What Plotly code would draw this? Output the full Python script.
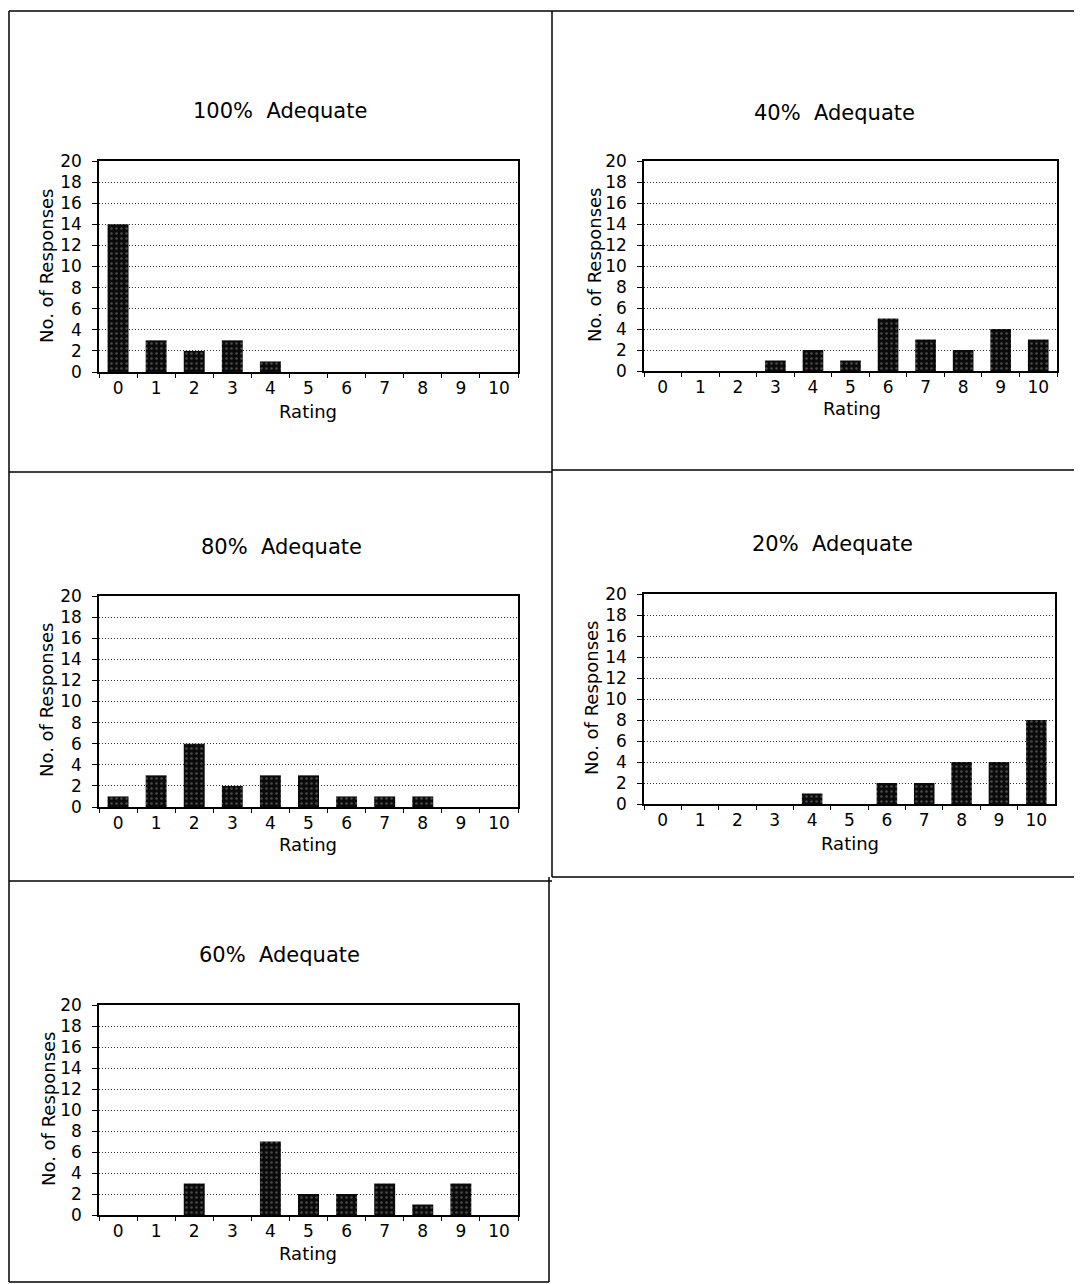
import plotly.graph_objects as go

# ---- data ----
ratings = ["0", "1", "2", "3", "4", "5", "6", "7", "8", "9", "10"]
titles = ["100%  Adequate", "40%  Adequate", "80%  Adequate", "20%  Adequate", "60%  Adequate"]
resp_100 = [14, 3, 2, 3, 1, 0, 0, 0, 0, 0, 0]
resp_40 = [0, 0, 0, 1, 2, 1, 5, 3, 2, 4, 3]
resp_80 = [1, 3, 6, 2, 3, 3, 1, 1, 1, 0, 0]
resp_20 = [0, 0, 0, 0, 1, 0, 2, 2, 4, 4, 8]
resp_60 = [0, 0, 3, 0, 7, 2, 2, 3, 1, 3, 0]
y_ticks = list(range(0, 21, 2))
y_title = "No. of Responses"
x_title = "Rating"

OX, OY = 8, 8            # page body margin offset
W, H = 1082 - OX, 1284 - OY
FONT = "DejaVu Sans"


def fx(p):
    return (p - OX) / W


def fy(p):
    return 1 - (p - OY) / H


panels = [
    dict(data=resp_100, px=(99, 518), py=(161, 372), t=(280, 111), yt=(46, 266), xt=(308, 411)),
    dict(data=resp_40, px=(644, 1057), py=(161, 371), t=(834, 113), yt=(594, 265), xt=(852, 408)),
    dict(data=resp_80, px=(99, 518), py=(596, 807), t=(281, 547), yt=(46, 700), xt=(308, 845)),
    dict(data=resp_20, px=(644, 1055), py=(594, 804), t=(832, 544), yt=(591, 698), xt=(850, 843)),
    dict(data=resp_60, px=(99, 518), py=(1005, 1215), t=(279, 955), yt=(48, 1109), xt=(308, 1253)),
]

fig = go.Figure()
layout = dict(
    template="none",
    width=W, height=H, autosize=False,
    margin=dict(l=0, r=0, t=0, b=0, pad=0, autoexpand=False),
    paper_bgcolor="white", plot_bgcolor="white",
    showlegend=False,
    font=dict(family=FONT, color="black", size=18),
    annotations=[], shapes=[],
)

for i, p in enumerate(panels):
    n = "" if i == 0 else str(i + 1)
    fig.add_trace(go.Bar(
        x=ratings, y=p["data"], xaxis="x" + n, yaxis="y" + n,
        width=0.55,
        marker=dict(
            color="#0a0a0a",
            line=dict(width=0),
            pattern=dict(shape=".", bgcolor="#0a0a0a", fgcolor="#8a8a8a",
                         size=5, solidity=0.2, fillmode="overlay"),
        ),
    ))
    layout["xaxis" + n] = dict(
        domain=[fx(p["px"][0]), fx(p["px"][1])], anchor="y" + n,
        type="category", categoryorder="array", categoryarray=ratings,
        range=[-0.5, 10.5], automargin=False,
        showline=True, linecolor="black", linewidth=1.5, mirror=True,
        ticks="outside", tickson="boundaries", ticklen=4, tickcolor="black",
        showgrid=False, zeroline=False,
        tickfont=dict(family=FONT, size=17, color="black"),
        fixedrange=True,
    )
    layout["yaxis" + n] = dict(
        domain=[fy(p["py"][1]), fy(p["py"][0])], anchor="x" + n,
        range=[0, 20], tickvals=y_ticks, automargin=False,
        showline=True, linecolor="black", linewidth=1.5, mirror=True,
        ticks="outside", ticklen=5, tickcolor="black",
        showgrid=True, gridcolor="#333333", gridwidth=1, griddash="1px,2px",
        zeroline=False,
        tickfont=dict(family=FONT, size=17, color="black"),
        ticklabelstandoff=7,
        fixedrange=True,
    )
    layout["annotations"].append(dict(
        text=titles[i], x=fx(p["t"][0]), y=fy(p["t"][1]), xref="paper", yref="paper",
        showarrow=False, xanchor="center", yanchor="middle",
        font=dict(family=FONT, size=21, color="black")))
    layout["annotations"].append(dict(
        text=y_title, x=fx(p["yt"][0]), y=fy(p["yt"][1]), xref="paper", yref="paper",
        showarrow=False, xanchor="center", yanchor="middle", textangle=-90,
        font=dict(family=FONT, size=18, color="black")))
    layout["annotations"].append(dict(
        text=x_title, x=fx(p["xt"][0]), y=fy(p["xt"][1]), xref="paper", yref="paper",
        showarrow=False, xanchor="center", yanchor="middle",
        font=dict(family=FONT, size=18, color="black")))

# frame lines (page pixel coords)
frame = [
    (3, 11, 1082, 11),      # top
    (4, 11, 4, 1282),       # left
    (552, 11, 552, 877),    # middle divider rows 1-2
    (549, 877, 549, 1282),  # middle divider row 3
    (4, 472, 552, 472),     # row 1 bottom left
    (552, 470, 1082, 470),  # row 1 bottom right
    (4, 881, 552, 881),     # row 2 bottom left
    (552, 877, 1082, 877),  # row 2 bottom right
    (4, 1282, 549, 1282),   # row 3 bottom
]


def cx(p):
    return max(fx(p), 1 / W)


for x0, y0, x1, y1 in frame:
    layout["shapes"].append(dict(
        type="line", xref="paper", yref="paper",
        x0=cx(x0), y0=fy(y0), x1=cx(x1), y1=fy(y1),
        line=dict(color="black", width=1.5)))

fig.update_layout(**layout)
fig.write_html("out.html")
